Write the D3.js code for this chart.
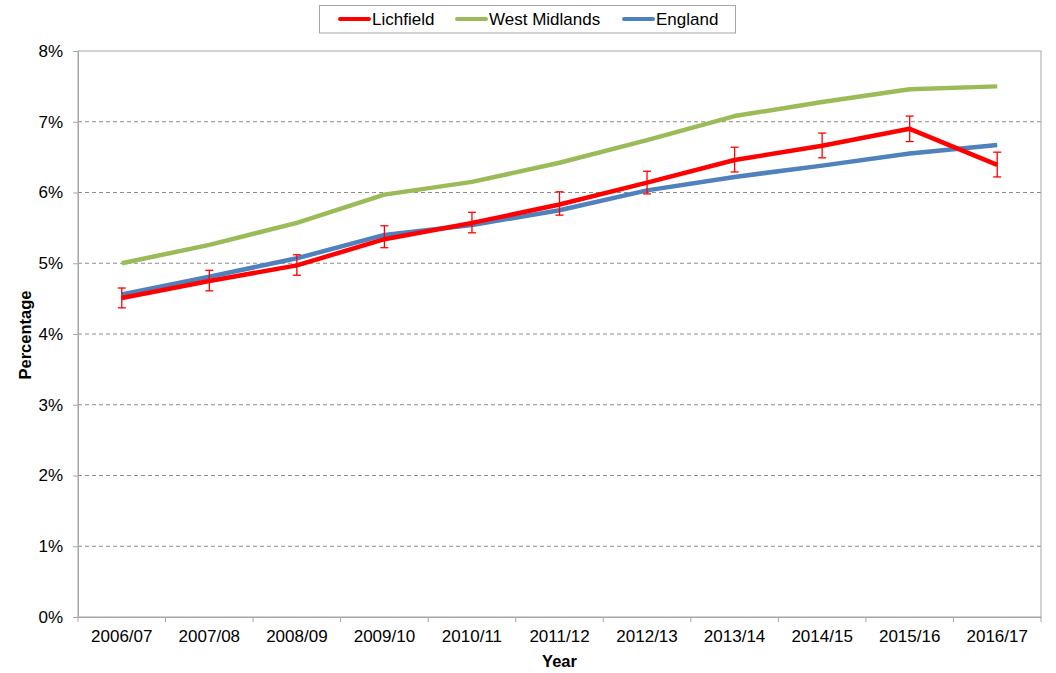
<!DOCTYPE html>
<html>
<head>
<meta charset="utf-8">
<script src="https://cdn.jsdelivr.net/npm/d3@7"></script>
<style>
  body { margin: 0; background: #fff; }
  svg { font-family: "Liberation Sans", Arial, sans-serif; }
</style>
</head>
<body>
<svg width="1056" height="673"></svg>
<script>
// Data
const years = ["2006/07", "2007/08", "2008/09", "2009/10", "2010/11", "2011/12",
               "2012/13", "2013/14", "2014/15", "2015/16", "2016/17"];
const lichfield = [4.51, 4.75, 4.97, 5.34, 5.57, 5.83, 6.14, 6.46, 6.66, 6.90, 6.39];
const lichfieldLower = [4.37, 4.61, 4.83, 5.22, 5.43, 5.68, 5.98, 6.29, 6.49, 6.72, 6.22];
const lichfieldUpper = [4.65, 4.90, 5.12, 5.53, 5.72, 6.01, 6.30, 6.64, 6.84, 7.08, 6.57];
const westMidlands = [5.00, 5.26, 5.57, 5.97, 6.15, 6.42, 6.74, 7.08, 7.28, 7.46, 7.50];
const england = [4.56, 4.81, 5.07, 5.40, 5.54, 5.75, 6.03, 6.22, 6.38, 6.55, 6.67];
const yTicks = [0, 1, 2, 3, 4, 5, 6, 7, 8];

const svg = d3.select("svg");
const plotLeft = 78, plotRight = 1041, plotTop = 51, plotBottom = 617;

const x = d3.scaleBand().domain(years).range([plotLeft, plotRight]);
const y = d3.scaleLinear().domain([0, 8]).range([plotBottom, plotTop]);
const cx = d => x(d) + x.bandwidth() / 2;

// Gridlines
svg.append("g")
  .selectAll("line")
  .data(yTicks.filter(t => t > 0 && t < 8))
  .join("line")
    .attr("x1", plotLeft).attr("x2", plotRight)
    .attr("y1", d => y(d)).attr("y2", d => y(d))
    .attr("stroke", "#8c8c8c")
    .attr("stroke-dasharray", "4,3")
    .attr("stroke-width", 1);

// Plot border
svg.append("rect")
    .attr("x", plotLeft).attr("y", plotTop)
    .attr("width", plotRight - plotLeft).attr("height", plotBottom - plotTop)
    .attr("fill", "none")
    .attr("stroke", "#a6a6a6");

// Y axis
const yAxis = svg.append("g")
    .attr("transform", `translate(${plotLeft},0)`)
    .call(d3.axisLeft(y).tickValues(yTicks).tickFormat(d => d + "%").tickSize(5).tickSizeOuter(0));
yAxis.select(".domain").attr("stroke", "#a6a6a6");
yAxis.selectAll(".tick line").attr("stroke", "#a6a6a6");
yAxis.selectAll("text").attr("font-size", 17).attr("fill", "#000").attr("x", -15)
    .attr("font-family", "Liberation Sans, Arial, sans-serif");

// X axis
const xAxis = svg.append("g")
    .attr("transform", `translate(0,${plotBottom})`)
    .call(d3.axisBottom(x).tickSize(0));
xAxis.select(".domain").attr("stroke", "#a6a6a6");
xAxis.selectAll("text").attr("font-size", 17).attr("fill", "#000").attr("y", 13).attr("dy", "0.71em")
    .attr("font-family", "Liberation Sans, Arial, sans-serif");
// category boundary ticks
svg.append("g")
  .selectAll("line")
  .data(d3.range(years.length + 1))
  .join("line")
    .attr("x1", i => plotLeft + i * x.step()).attr("x2", i => plotLeft + i * x.step())
    .attr("y1", plotBottom).attr("y2", plotBottom + 5)
    .attr("stroke", "#a6a6a6");

// Axis titles
svg.append("text")
    .attr("x", (plotLeft + plotRight) / 2).attr("y", 667)
    .attr("text-anchor", "middle")
    .attr("font-size", 16.5).attr("font-weight", "bold")
    .text("Year");
svg.append("text")
    .attr("transform", `translate(31,${(plotTop + plotBottom) / 2 + 1}) rotate(-90)`)
    .attr("text-anchor", "middle")
    .attr("font-size", 16.5).attr("font-weight", "bold")
    .text("Percentage");

// Lines
const line = d3.line().x((d, i) => cx(years[i])).y(d => y(d));
const series = [
  { name: "West Midlands", values: westMidlands, color: "#9BBB59" },
  { name: "England", values: england, color: "#4F81BD" },
  { name: "Lichfield", values: lichfield, color: "#FF0000" }
];
svg.append("g")
  .selectAll("path")
  .data(series)
  .join("path")
    .attr("d", d => line(d.values))
    .attr("fill", "none")
    .attr("stroke", d => d.color)
    .attr("stroke-width", 4.5)
    .attr("stroke-linejoin", "round");

// Error bars for Lichfield
const err = svg.append("g").attr("stroke", "#FF0000").attr("stroke-width", 1.3);
years.forEach((yr, i) => {
  const px = cx(yr);
  err.append("line").attr("x1", px).attr("x2", px)
     .attr("y1", y(lichfieldLower[i])).attr("y2", y(lichfieldUpper[i]));
  [lichfieldLower[i], lichfieldUpper[i]].forEach(v => {
    err.append("line").attr("x1", px - 4).attr("x2", px + 4)
       .attr("y1", y(v)).attr("y2", y(v));
  });
});

// Legend
const legend = svg.append("g");
legend.append("rect")
    .attr("x", 319.5).attr("y", 5.5).attr("width", 416).attr("height", 27.5)
    .attr("fill", "#fff").attr("stroke", "#a6a6a6");
const legendItems = [
  { name: "Lichfield", color: "#FF0000", x: 340 },
  { name: "West Midlands", color: "#9BBB59", x: 457 },
  { name: "England", color: "#4F81BD", x: 624 }
];
const li = legend.selectAll("g.item").data(legendItems).join("g").attr("class", "item");
li.append("line")
    .attr("x1", d => d.x).attr("x2", d => d.x + 29)
    .attr("y1", 19).attr("y2", 19)
    .attr("stroke", d => d.color).attr("stroke-width", 4)
    .attr("stroke-linecap", "round");
li.append("text")
    .attr("x", d => d.x + 32).attr("y", 25)
    .attr("font-size", 17)
    .text(d => d.name);
</script>
</body>
</html>
